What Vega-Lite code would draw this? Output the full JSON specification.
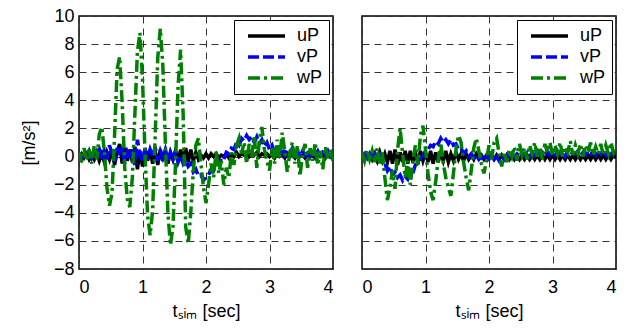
{
"$schema": "https://vega.github.io/schema/vega-lite/v6.json",
"background": "white",
"padding": {"left": 19, "top": 6, "right": 0, "bottom": 0},
"spacing": 29,
"bounds": "flush",
"datasets": {
"left": [
{"t":0.00,"uP":0.0,"vP":0.1,"wP":0.3},{"t":0.04,"uP":0.2,"vP":-0.2,"wP":-0.4},{"t":0.08,"uP":-0.1,"vP":0.3,"wP":0.6},{"t":0.12,"uP":0.2,"vP":0.0,"wP":-0.3},{"t":0.16,"uP":-0.2,"vP":0.4,"wP":0.5},
{"t":0.20,"uP":0.1,"vP":-0.1,"wP":-0.5},{"t":0.24,"uP":-0.2,"vP":0.3,"wP":0.8},{"t":0.28,"uP":0.3,"vP":0.1,"wP":-0.2},{"t":0.32,"uP":-0.3,"vP":0.5,"wP":1.6},{"t":0.36,"uP":0.2,"vP":-0.3,"wP":2.1},
{"t":0.40,"uP":-0.4,"vP":0.4,"wP":0.3},{"t":0.44,"uP":0.3,"vP":-0.2,"wP":-2.2},{"t":0.48,"uP":-0.2,"vP":0.8,"wP":-3.5},{"t":0.52,"uP":0.5,"vP":0.2,"wP":-2.6},{"t":0.56,"uP":-0.6,"vP":-0.4,"wP":1.5},
{"t":0.60,"uP":0.3,"vP":0.6,"wP":6.2},{"t":0.64,"uP":0.9,"vP":0.0,"wP":7.1},{"t":0.68,"uP":-0.5,"vP":0.7,"wP":3.8},{"t":0.72,"uP":0.6,"vP":-0.5,"wP":-0.8},{"t":0.76,"uP":-0.3,"vP":0.3,"wP":-3.0},
{"t":0.80,"uP":0.5,"vP":-0.2,"wP":-3.6},{"t":0.84,"uP":-0.4,"vP":0.5,"wP":-1.5},{"t":0.88,"uP":0.7,"vP":-0.6,"wP":3.0},{"t":0.92,"uP":-0.9,"vP":1.2,"wP":7.5},{"t":0.96,"uP":0.4,"vP":0.1,"wP":8.8},
{"t":1.00,"uP":-0.7,"vP":-0.4,"wP":5.5},{"t":1.04,"uP":0.6,"vP":0.6,"wP":0.2},{"t":1.08,"uP":-0.3,"vP":-0.2,"wP":-4.2},{"t":1.12,"uP":0.5,"vP":0.5,"wP":-5.6},{"t":1.16,"uP":-0.5,"vP":0.0,"wP":-3.8},
{"t":1.20,"uP":0.4,"vP":0.7,"wP":1.5},{"t":1.24,"uP":-0.6,"vP":-0.3,"wP":7.0},{"t":1.28,"uP":0.5,"vP":0.4,"wP":9.1},{"t":1.32,"uP":-0.3,"vP":-0.1,"wP":6.5},{"t":1.36,"uP":0.4,"vP":0.5,"wP":1.0},
{"t":1.40,"uP":-0.5,"vP":-0.3,"wP":-4.0},{"t":1.44,"uP":0.3,"vP":0.3,"wP":-6.3},{"t":1.48,"uP":-0.2,"vP":-0.2,"wP":-5.0},{"t":1.52,"uP":0.4,"vP":0.4,"wP":-0.5},{"t":1.56,"uP":-0.4,"vP":-0.4,"wP":5.0},
{"t":1.60,"uP":0.5,"vP":0.1,"wP":7.6},{"t":1.64,"uP":-0.3,"vP":-0.5,"wP":3.0},{"t":1.68,"uP":0.6,"vP":-0.2,"wP":-5.0},{"t":1.72,"uP":-0.4,"vP":-0.7,"wP":-6.2},{"t":1.76,"uP":0.5,"vP":-0.5,"wP":-4.0},
{"t":1.80,"uP":-0.3,"vP":-1.1,"wP":-1.0},{"t":1.84,"uP":0.3,"vP":-0.9,"wP":0.8},{"t":1.88,"uP":-0.2,"vP":-1.4,"wP":1.3},{"t":1.92,"uP":0.1,"vP":-1.3,"wP":-0.5},{"t":1.96,"uP":-0.1,"vP":-1.7,"wP":-2.2},
{"t":2.00,"uP":0.2,"vP":-1.5,"wP":-3.3},{"t":2.04,"uP":-0.1,"vP":-1.3,"wP":-2.0},{"t":2.08,"uP":0.2,"vP":-0.9,"wP":-0.5},{"t":2.12,"uP":0.0,"vP":-1.0,"wP":-1.5},{"t":2.16,"uP":0.2,"vP":-0.5,"wP":0.4},
{"t":2.20,"uP":-0.1,"vP":-0.6,"wP":-1.2},{"t":2.24,"uP":0.1,"vP":-0.1,"wP":-0.3},{"t":2.28,"uP":0.0,"vP":-0.2,"wP":-2.0},{"t":2.32,"uP":0.2,"vP":0.3,"wP":-0.8},{"t":2.36,"uP":-0.1,"vP":0.2,"wP":-1.5},
{"t":2.40,"uP":0.1,"vP":0.6,"wP":0.3},{"t":2.44,"uP":0.0,"vP":0.5,"wP":-0.6},{"t":2.48,"uP":0.3,"vP":1.0,"wP":0.8},{"t":2.52,"uP":0.0,"vP":0.8,"wP":1.3},{"t":2.56,"uP":0.2,"vP":1.3,"wP":0.2},
{"t":2.60,"uP":0.1,"vP":1.1,"wP":1.0},{"t":2.64,"uP":0.3,"vP":1.5,"wP":-0.5},{"t":2.68,"uP":0.0,"vP":1.2,"wP":0.9},{"t":2.72,"uP":0.2,"vP":1.4,"wP":0.0},{"t":2.76,"uP":0.1,"vP":1.0,"wP":1.5},
{"t":2.80,"uP":0.3,"vP":1.4,"wP":-0.8},{"t":2.84,"uP":0.0,"vP":0.9,"wP":1.2},{"t":2.88,"uP":0.2,"vP":1.2,"wP":2.1},{"t":2.92,"uP":0.1,"vP":0.7,"wP":0.5},{"t":2.96,"uP":0.2,"vP":1.0,"wP":-0.3},
{"t":3.00,"uP":0.0,"vP":0.5,"wP":-1.0},{"t":3.04,"uP":0.2,"vP":0.8,"wP":0.6},{"t":3.08,"uP":-0.1,"vP":0.3,"wP":-0.5},{"t":3.12,"uP":0.2,"vP":0.7,"wP":1.2},{"t":3.16,"uP":0.0,"vP":0.2,"wP":-0.2},
{"t":3.20,"uP":0.1,"vP":0.6,"wP":1.7},{"t":3.24,"uP":-0.1,"vP":0.1,"wP":0.4},{"t":3.28,"uP":0.2,"vP":0.5,"wP":-1.1},{"t":3.32,"uP":0.0,"vP":0.2,"wP":0.3},{"t":3.36,"uP":0.1,"vP":0.6,"wP":1.0},
{"t":3.40,"uP":-0.1,"vP":0.1,"wP":-0.5},{"t":3.44,"uP":0.2,"vP":0.4,"wP":0.8},{"t":3.48,"uP":0.0,"vP":0.0,"wP":-1.4},{"t":3.52,"uP":0.1,"vP":0.4,"wP":0.2},{"t":3.56,"uP":-0.1,"vP":0.1,"wP":0.9},
{"t":3.60,"uP":0.2,"vP":0.5,"wP":-0.8},{"t":3.64,"uP":0.0,"vP":0.0,"wP":0.6},{"t":3.68,"uP":0.1,"vP":0.3,"wP":-0.3},{"t":3.72,"uP":-0.1,"vP":0.1,"wP":1.0},{"t":3.76,"uP":0.2,"vP":0.4,"wP":-0.6},
{"t":3.80,"uP":0.0,"vP":0.0,"wP":0.4},{"t":3.84,"uP":0.1,"vP":0.3,"wP":-0.9},{"t":3.88,"uP":-0.1,"vP":0.1,"wP":0.7},{"t":3.92,"uP":0.2,"vP":0.4,"wP":-0.2},{"t":3.96,"uP":0.0,"vP":0.0,"wP":0.5},
{"t":4.00,"uP":0.1,"vP":0.2,"wP":-0.3}
],
"right": [
{"t":0.00,"uP":0.0,"vP":0.0,"wP":0.3},{"t":0.04,"uP":0.1,"vP":0.2,"wP":-0.3},{"t":0.08,"uP":-0.1,"vP":-0.1,"wP":0.5},{"t":0.12,"uP":0.2,"vP":0.3,"wP":-0.2},{"t":0.16,"uP":-0.2,"vP":0.0,"wP":0.4},
{"t":0.20,"uP":0.2,"vP":0.2,"wP":-0.4},{"t":0.24,"uP":-0.3,"vP":-0.2,"wP":0.6},{"t":0.28,"uP":0.3,"vP":0.1,"wP":-0.5},{"t":0.32,"uP":-0.3,"vP":-0.3,"wP":0.3},{"t":0.36,"uP":0.2,"vP":-0.5,"wP":-1.5},
{"t":0.40,"uP":-0.4,"vP":-1.0,"wP":-3.1},{"t":0.44,"uP":0.4,"vP":-0.7,"wP":-2.2},{"t":0.48,"uP":-0.5,"vP":-1.3,"wP":-1.0},{"t":0.52,"uP":0.5,"vP":-1.1,"wP":-2.3},{"t":0.56,"uP":-0.6,"vP":-1.5,"wP":0.5},
{"t":0.60,"uP":0.3,"vP":-1.3,"wP":2.0},{"t":0.64,"uP":-0.4,"vP":-1.7,"wP":0.2},{"t":0.68,"uP":0.4,"vP":-1.4,"wP":-1.5},{"t":0.72,"uP":-0.5,"vP":-1.6,"wP":-0.3},{"t":0.76,"uP":0.4,"vP":-1.1,"wP":-2.0},
{"t":0.80,"uP":-0.4,"vP":-1.2,"wP":-0.5},{"t":0.84,"uP":0.3,"vP":-0.6,"wP":0.8},{"t":0.88,"uP":-0.5,"vP":-0.5,"wP":-0.6},{"t":0.92,"uP":0.4,"vP":-0.1,"wP":1.5},{"t":0.96,"uP":-0.3,"vP":0.1,"wP":2.2},
{"t":1.00,"uP":0.3,"vP":0.4,"wP":0.5},{"t":1.04,"uP":-0.4,"vP":0.5,"wP":-1.2},{"t":1.08,"uP":0.4,"vP":0.8,"wP":-2.5},{"t":1.12,"uP":-0.5,"vP":0.7,"wP":-3.1},{"t":1.16,"uP":0.3,"vP":1.1,"wP":-1.8},
{"t":1.20,"uP":-0.4,"vP":0.9,"wP":-0.2},{"t":1.24,"uP":0.3,"vP":1.3,"wP":1.0},{"t":1.28,"uP":-0.3,"vP":1.0,"wP":-0.5},{"t":1.32,"uP":0.4,"vP":1.2,"wP":-1.5},{"t":1.36,"uP":-0.4,"vP":0.9,"wP":-2.2},
{"t":1.40,"uP":0.2,"vP":1.2,"wP":-2.8},{"t":1.44,"uP":-0.3,"vP":0.8,"wP":-1.2},{"t":1.48,"uP":0.3,"vP":0.9,"wP":0.5},{"t":1.52,"uP":-0.2,"vP":0.5,"wP":1.5},{"t":1.56,"uP":0.2,"vP":0.6,"wP":1.0},
{"t":1.60,"uP":-0.3,"vP":0.2,"wP":-0.4},{"t":1.64,"uP":0.2,"vP":0.4,"wP":-1.5},{"t":1.68,"uP":-0.2,"vP":0.0,"wP":-2.4},{"t":1.72,"uP":0.1,"vP":0.2,"wP":-1.0},{"t":1.76,"uP":-0.2,"vP":-0.1,"wP":0.6},
{"t":1.80,"uP":0.2,"vP":0.1,"wP":1.3},{"t":1.84,"uP":-0.1,"vP":-0.2,"wP":0.4},{"t":1.88,"uP":0.1,"vP":0.0,"wP":-0.5},{"t":1.92,"uP":-0.2,"vP":-0.3,"wP":-1.2},{"t":1.96,"uP":0.1,"vP":0.0,"wP":-0.3},
{"t":2.00,"uP":-0.1,"vP":-0.2,"wP":0.8},{"t":2.04,"uP":0.1,"vP":0.1,"wP":-0.2},{"t":2.08,"uP":-0.2,"vP":-0.2,"wP":1.0},{"t":2.12,"uP":0.1,"vP":0.0,"wP":1.3},{"t":2.16,"uP":-0.2,"vP":-0.3,"wP":0.2},
{"t":2.20,"uP":0.1,"vP":0.0,"wP":-0.7},{"t":2.24,"uP":-0.2,"vP":-0.2,"wP":0.3},{"t":2.28,"uP":0.1,"vP":0.1,"wP":-0.4},{"t":2.32,"uP":-0.2,"vP":-0.1,"wP":0.5},{"t":2.36,"uP":0.1,"vP":0.2,"wP":0.0},
{"t":2.40,"uP":-0.2,"vP":0.0,"wP":0.7},{"t":2.44,"uP":0.1,"vP":0.2,"wP":-0.3},{"t":2.48,"uP":-0.2,"vP":0.0,"wP":0.9},{"t":2.52,"uP":0.1,"vP":0.3,"wP":0.1},{"t":2.56,"uP":-0.2,"vP":0.1,"wP":0.6},
{"t":2.60,"uP":0.1,"vP":0.3,"wP":-0.2},{"t":2.64,"uP":-0.2,"vP":0.0,"wP":0.8},{"t":2.68,"uP":0.1,"vP":0.3,"wP":0.2},{"t":2.72,"uP":-0.2,"vP":0.1,"wP":1.0},{"t":2.76,"uP":0.1,"vP":0.4,"wP":0.0},
{"t":2.80,"uP":-0.2,"vP":0.1,"wP":0.7},{"t":2.84,"uP":0.1,"vP":0.3,"wP":-0.2},{"t":2.88,"uP":-0.2,"vP":0.0,"wP":0.9},{"t":2.92,"uP":0.1,"vP":0.4,"wP":0.3},{"t":2.96,"uP":-0.2,"vP":0.1,"wP":1.0},
{"t":3.00,"uP":0.1,"vP":0.3,"wP":0.1},{"t":3.04,"uP":-0.2,"vP":0.1,"wP":0.8},{"t":3.08,"uP":0.1,"vP":0.4,"wP":0.2},{"t":3.12,"uP":-0.2,"vP":0.2,"wP":1.0},{"t":3.16,"uP":0.1,"vP":0.3,"wP":0.0},
{"t":3.20,"uP":-0.2,"vP":0.0,"wP":0.7},{"t":3.24,"uP":0.1,"vP":0.4,"wP":0.3},{"t":3.28,"uP":-0.2,"vP":0.1,"wP":1.1},{"t":3.32,"uP":0.1,"vP":0.3,"wP":0.1},{"t":3.36,"uP":-0.2,"vP":0.2,"wP":0.8},
{"t":3.40,"uP":0.1,"vP":0.4,"wP":0.2},{"t":3.44,"uP":-0.2,"vP":0.1,"wP":0.9},{"t":3.48,"uP":0.1,"vP":0.3,"wP":0.0},{"t":3.52,"uP":-0.2,"vP":0.1,"wP":0.8},{"t":3.56,"uP":0.1,"vP":0.4,"wP":0.3},
{"t":3.60,"uP":-0.2,"vP":0.2,"wP":1.0},{"t":3.64,"uP":0.1,"vP":0.3,"wP":0.1},{"t":3.68,"uP":-0.2,"vP":0.1,"wP":0.7},{"t":3.72,"uP":0.1,"vP":0.4,"wP":0.2},{"t":3.76,"uP":-0.2,"vP":0.2,"wP":0.9},
{"t":3.80,"uP":0.1,"vP":0.3,"wP":0.1},{"t":3.84,"uP":-0.2,"vP":0.1,"wP":0.8},{"t":3.88,"uP":0.1,"vP":0.4,"wP":0.2},{"t":3.92,"uP":-0.2,"vP":0.2,"wP":1.0},{"t":3.96,"uP":0.1,"vP":0.3,"wP":0.3},
{"t":4.00,"uP":-0.1,"vP":0.3,"wP":0.8}
]
},
"hconcat": [
{
"width": 254, "height": 253,
"data": {"name": "left"},
"transform": [{"fold": ["uP", "vP", "wP"], "as": ["series", "value"]}],
"mark": {"type": "line", "strokeWidth": 3.5, "clip": true},
"encoding": {
"x": {"field": "t", "type": "quantitative", "scale": {"domain": [0, 4], "nice": false}, "axis": {"values": [0, 1, 2, 3, 4], "title": "tₛᵢₘ [sec]", "labelPadding": 9, "titlePadding": 6}},
"y": {"field": "value", "type": "quantitative", "scale": {"domain": [-8, 10], "nice": false}, "axis": {"values": [-8, -6, -4, -2, 0, 2, 4, 6, 8, 10], "title": "[m/s²]", "labelPadding": 5, "titlePadding": 15}},
"color": {"field": "series", "type": "nominal", "scale": {"domain": ["uP", "vP", "wP"], "range": ["#000000", "#0000ff", "#008000"]}, "legend": {"title": null}},
"strokeDash": {"field": "series", "type": "nominal", "scale": {"domain": ["uP", "vP", "wP"], "range": [[1, 0], [11, 4], [12, 4, 3, 4]]}, "legend": {"title": null}}
}
},
{
"width": 254, "height": 253,
"data": {"name": "right"},
"transform": [{"fold": ["uP", "vP", "wP"], "as": ["series", "value"]}],
"mark": {"type": "line", "strokeWidth": 3.5, "clip": true},
"encoding": {
"x": {"field": "t", "type": "quantitative", "scale": {"domain": [0, 4], "nice": false}, "axis": {"values": [0, 1, 2, 3, 4], "title": "tₛᵢₘ [sec]", "labelPadding": 9, "titlePadding": 6}},
"y": {"field": "value", "type": "quantitative", "scale": {"domain": [-8, 10], "nice": false}, "axis": {"values": [-8, -6, -4, -2, 0, 2, 4, 6, 8, 10], "title": null, "labels": false, "labelPadding": 0}},
"color": {"field": "series", "type": "nominal", "scale": {"domain": ["uP", "vP", "wP"], "range": ["#000000", "#0000ff", "#008000"]}, "legend": {"title": null}},
"strokeDash": {"field": "series", "type": "nominal", "scale": {"domain": ["uP", "vP", "wP"], "range": [[1, 0], [11, 4], [12, 4, 3, 4]]}, "legend": {"title": null}}
}
}
],
"resolve": {"scale": {"color": "independent", "strokeDash": "independent", "y": "independent"}, "legend": {"color": "independent", "strokeDash": "independent"}},
"config": {
"font": "Liberation Sans",
"view": {"stroke": "#000000", "strokeWidth": 1.5},
"axis": {"domain": false, "ticks": false, "tickSize": 0, "grid": true, "gridDash": [7, 5], "gridColor": "#333333", "gridOpacity": 1, "gridWidth": 1, "labelFont": "Liberation Sans", "labelFontSize": 18, "labelColor": "#000000", "titleFont": "Liberation Sans", "titleFontSize": 18, "titleFontWeight": "normal", "titleColor": "#000000"},
"legend": {"orient": "top-right", "offset": 4, "symbolType": "stroke", "symbolSize": 1369, "symbolStrokeWidth": 3.5, "labelFont": "Liberation Sans", "labelFontSize": 18, "labelColor": "#000000", "strokeColor": "#000000", "fillColor": "#ffffff", "padding": 6, "clipHeight": 20, "rowPadding": 1, "labelOffset": 10, "symbolOffset": 6, "labelExpr": "datum.label + '    '"}
}
}
